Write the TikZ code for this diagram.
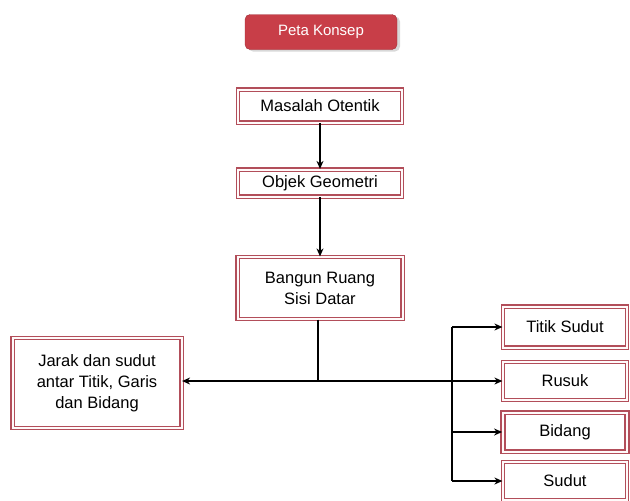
\documentclass[tikz,border=0pt]{standalone}
\usepackage{fontspec}
\setmainfont{Liberation Sans}
\usetikzlibrary{arrows.meta,shadows}
\definecolor{kotakmerah}{RGB}{178,78,90}
\definecolor{isimerah}{RGB}{200,62,72}
\definecolor{isimuda}{RGB}{255,250,250}
\tikzset{
  judul/.style={draw=isimerah!80!black, fill=isimerah, rounded corners=5pt, text=white,
    minimum width=152pt, minimum height=35pt, font=\fontsize{15}{17}\selectfont,
    drop shadow={shadow xshift=3pt, shadow yshift=-2pt, fill=gray!60}},
  kotak/.style={draw=kotakmerah, double=isimuda, double distance=2pt, line width=1.2pt,
    align=center, font=\fontsize{16.5}{21}\selectfont, inner sep=2pt},
  panah/.style={-{Stealth[length=8pt,width=7pt]}, line width=1.4pt},
  garis/.style={line width=1.4pt}
}
\begin{document}
\begin{tikzpicture}[x=1pt, y=-1pt]
  \useasboundingbox (0,0) rectangle (630,501);
  \node[judul] (peta) at (321,32) {Peta Konsep};
  \node[kotak, minimum width=164pt, minimum height=33pt] (masalah) at (320,106) {Masalah Otentik};
  \node[kotak, minimum width=164pt, minimum height=27pt] (objek) at (320,183) {Objek Geometri};
  \node[kotak, minimum width=165pt, minimum height=62pt] (bangun) at (320,288) {Bangun Ruang\\Sisi Datar};
  \node[kotak, minimum width=169pt, minimum height=90pt] (jarak) at (97,383) {Jarak dan sudut\\antar Titik, Garis\\dan Bidang};
  % kotak sebelah kanan
  \node[kotak, minimum width=124pt, minimum height=41pt] (titik) at (565,327) {Titik Sudut};
  \node[kotak, minimum width=124pt, minimum height=38pt] (rusuk) at (565,381) {Rusuk};
  \node[kotak, minimum width=124pt, minimum height=39pt, line width=1.8pt] (bidang) at (565,432) {Bidang};
  \node[kotak, minimum width=124pt, minimum height=38pt] (sudut) at (565,481) {Sudut};
  % penghubung
  \coordinate (tengah) at (318,381);
  \coordinate (cabang) at (452,381);
  \coordinate (atas) at (452,327);
  \coordinate (bawah) at (452,481);
  \draw[panah] (masalah) -- (objek);
  \draw[panah] (objek) -- (bangun);
  \draw[garis] (bangun.south -| tengah) -- (tengah);
  \draw[panah] (tengah) -- (tengah -| jarak.east);
  \draw[panah] (tengah) -- (rusuk.west |- tengah);
  \draw[garis] (atas) -- (bawah);
  \draw[panah] (atas) -- (titik.west);
  \draw[panah] (cabang |- bidang) -- (bidang.west);
  \draw[panah] (bawah) -- (sudut.west);
\end{tikzpicture}
\end{document}
